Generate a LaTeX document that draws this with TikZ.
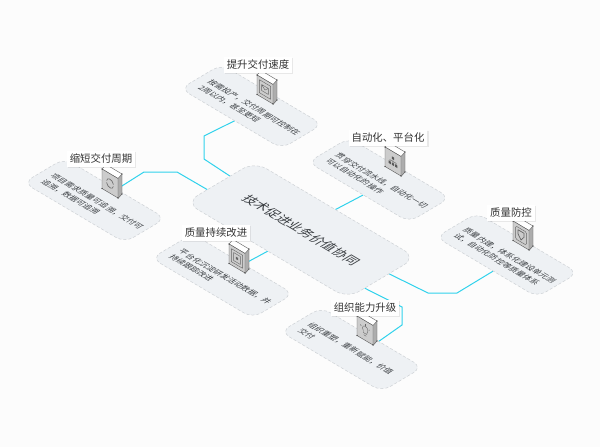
\documentclass[tikz,border=0pt]{standalone}
\usepackage{fontspec}
\setmainfont{Noto Sans CJK SC}
\usetikzlibrary{backgrounds,shadows}
\definecolor{linkblue}{HTML}{30D2EC}
\definecolor{platefill}{HTML}{EEF1F4}
\definecolor{plateedge}{HTML}{CDD1D5}
\definecolor{inktext}{HTML}{383C40}
\begin{document}
\begin{tikzpicture}[x=1pt, y=-1pt, line join=round]
    \tikzstyle{iso}=[cm={.86,-.51,.86,.51,(0,0)}, transform shape]
    \tikzstyle{plate}=[iso, rectangle, minimum width=117.5pt, minimum height=47.5pt, inner sep=0pt, outer sep=0pt]
    \tikzstyle{hubplate}=[plate, minimum width=188pt, minimum height=80pt]
    \tikzstyle{outline}=[rounded corners=10pt, draw=plateedge, dash pattern=on 3pt off 2pt, line width=.5pt, fill=platefill]
    \tikzstyle{note}=[iso, inner sep=0pt, text width=105pt, align=left, text=inktext, font=\fontsize{8}{11}\selectfont]
    \tikzstyle{boxfront}=[cm={.86,-.51,0,1,(0,0)}, transform shape, rectangle, draw=black!65, line width=.4pt, fill=black!20, minimum width=18.6pt, minimum height=19.5pt, inner sep=0pt]
    \tikzstyle{tag}=[rectangle, fill=white, inner xsep=3pt, inner ysep=0pt, minimum height=15.5pt, text=black!80, font=\fontsize{10.4}{12}\selectfont, drop shadow={shadow xshift=1.2pt, shadow yshift=-1.2pt, opacity=.16}]
    \tikzstyle{link}=[draw=linkblue, line width=1pt]
    \tikzstyle{glyph}=[draw=black!60, line width=.4pt]
    \useasboundingbox (0,0) rectangle (600,447);

    \node[hubplate] (hub) at (301,230) {};
    \draw[outline, rounded corners=14pt] (hub.north west) -- (hub.north east) -- (hub.south east) -- (hub.south west) -- cycle;
    \node[iso, text=inktext, font=\fontsize{13}{15}\selectfont, inner sep=0pt] (hubtext) at (301,230) {技术促进业务价值协同};

    \foreach \n/\cx/\cy/\px/\py/\lx/\ly/\title/\body in {
        1/251.5/106.5/257/75/258/65/提升交付速度/{按需投产，交付周期可控制在\\2周以内，甚至更短},
        2/94.5/200.5/102/169/101/159/缩短交付周期/{项目需求质量可追溯，交付可\\追溯，数据可追溯},
        3/222.5/276/229/244/216/233/质量持续改进/{平台化沉淀研发活动数据，并\\持续跟踪改进},
        4/351.5/349.5/357/316/365/308/组织能力升级/{组织重塑，重新赋能，价值\\交付},
        5/379/180/385/147/388/138/{自动化、平台化}/{贯穿交付流水线，自动化一切\\可以自动化的操作},
        6/507/255/513/221/511/213/质量防控/{质量内建，体系化建设单元测\\试，自动化防控等质量体系}} {
        \node[plate] (plate\n) at (\cx,\cy) {};
        \draw[outline] (plate\n.north west) -- (plate\n.north east) -- (plate\n.south east) -- (plate\n.south west) -- cycle;
        \node[note] (note\n) at (\cx-1.7,\cy+4) {\body};
        % side and top faces, then the front
        \fill[black!32] (\px+16,\py+9.5) -- (\px+20,\py+5) -- (\px+20,\py+25) -- (\px+16,\py+29.5) -- cycle;
        \filldraw[fill=white, draw=black!65, line width=.4pt] (\px,\py) -- (\px+4,\py-4.5) -- (\px+20,\py+5) -- (\px+16,\py+9.5) -- cycle;
        \draw[black!65, line width=.4pt] (\px+20,\py+5) -- (\px+20,\py+25) -- (\px+16,\py+29.5);
        \node[boxfront] (box\n) at (\px+8,\py+14.5) {};
        \foreach \dx/\dy in {0/0,0/19.5,16/29,20/25,20/5} {
            \fill[black!80] (\px+\dx,\py+\dy) circle (.7pt);
        }
        \node[tag] (tag\n) at (\lx,\ly) {\title};
    }

    % icons on the front faces
    \begin{scope}[shift={(box1.center)}, cm={.86,-.51,0,1,(0,0)}, x=1pt, y=1pt]
        \draw[glyph] (-6.5,-6.5) rectangle (6.5,6.5);
        \draw[glyph] (-4,-3) rectangle (4,3) (-4,3) -- (0,-.5) -- (4,3);
    \end{scope}
    \begin{scope}[shift={(box2.center)}, cm={.86,-.51,0,1,(0,0)}, x=1pt, y=1pt]
        \draw[glyph, line width=.6pt] (4,1) arc (10:170:4);
        \draw[glyph, line width=.6pt] (-4,-1) arc (190:350:4);
    \end{scope}
    \begin{scope}[shift={(box3.center)}, cm={.86,-.51,0,1,(0,0)}, x=1pt, y=1pt]
        \draw[glyph] (-6.5,-6.5) rectangle (6.5,6.5);
        \draw[glyph] (-4,-4) rectangle (4,4);
        \fill[black!60] (-1.2,-1.2) rectangle (1.2,1.2);
    \end{scope}
    \begin{scope}[shift={(box4.center)}, cm={.86,-.51,0,1,(0,0)}, x=1pt, y=1pt]
        \draw[glyph] (-2,-3) -- (-2,-1) arc (225:-45:3.2) -- (2,-3) -- cycle;
        \draw[glyph] (-1.5,-5) -- (1.5,-5);
        \foreach \a in {30,90,150} {
            \draw[glyph] (\a:5) -- (\a:6.5);
        }
    \end{scope}
    \begin{scope}[shift={(box5.center)}, cm={.86,-.51,0,1,(0,0)}, x=1pt, y=1pt]
        \fill[black!65] (-1.3,2) rectangle (1.3,4.5) (-5,-4) rectangle (-2.4,-1.5) (2.4,-4) rectangle (5,-1.5) (-1.3,-4) rectangle (1.3,-1.5);
        \draw[glyph] (0,2) -- (0,-1.5) (-3.7,-1.5) -- (-3.7,0) -- (3.7,0) -- (3.7,-1.5);
    \end{scope}
    \begin{scope}[shift={(box6.center)}, cm={.86,-.51,0,1,(0,0)}, x=1pt, y=1pt]
        \draw[glyph, rounded corners=1.5pt] (-6.5,-6.5) rectangle (6.5,6.5);
        \draw[glyph, line width=.7pt] (-3.5,4) -- (3.5,4) -- (3.5,0) -- (0,-4.5) -- (-3.5,0) -- cycle;
    \end{scope}

    \begin{scope}[on background layer]
        \fill[black!1] (0,0) rectangle (600,447);
        \draw[link] (plate1.280) -- (204,136) -- (204,159) -- (hub.173);
        \draw[link] (box2.east) -- (144,172) -- (177,172) -- (hub.189);
        \draw[link] (box3.east) -- (hub.272);
        \draw[link] (box4.south east) -- (402,325) -- (402,307) -- (hub.348);
        \draw[link] (plate5.283) -- (hub.north);
        \draw[link] (plate6.288) -- (457,293) -- (428,293) -- (hub.5);
    \end{scope}
\end{tikzpicture}
\end{document}
